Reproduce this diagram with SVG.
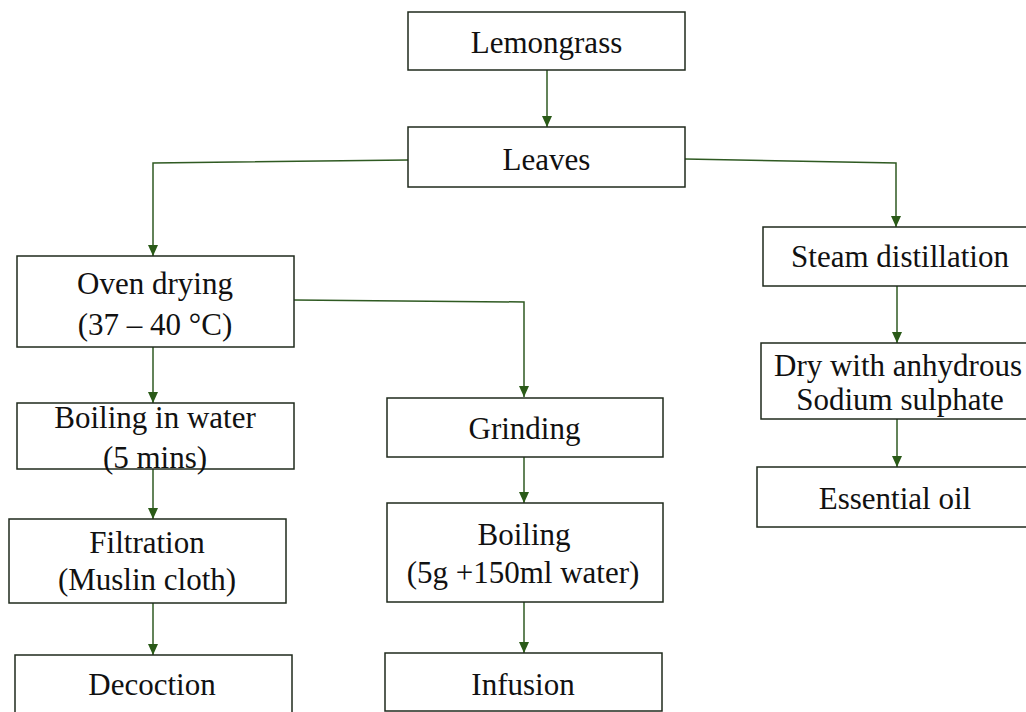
<svg xmlns="http://www.w3.org/2000/svg" width="1026" height="712" viewBox="0 0 1026 712">
<style>
.box{fill:#fff;stroke:#1f2a1c;stroke-width:1.5}
.t{font-family:'Liberation Serif',serif;font-size:31px;fill:#111;text-anchor:middle}
.c{fill:none;stroke:#2f5a22;stroke-width:1.5}
</style>
<defs>
<marker id="ah" markerUnits="userSpaceOnUse" markerWidth="11" markerHeight="10" viewBox="0 0 11 10" refX="11" refY="5" orient="auto">
<path d="M0,0 L11,5 L0,10 Z" fill="#2a5a18"/>
</marker>
</defs>
<rect width="1026" height="712" fill="#fff"/>
<g id="connectors">
<path class="c" d="M547,70 V127" marker-end="url(#ah)"/>
<path class="c" d="M408,160 L153,163 V256" marker-end="url(#ah)"/>
<path class="c" d="M685,159 L896,163 V227" marker-end="url(#ah)"/>
<path class="c" d="M294,300 L524,302 V397" marker-end="url(#ah)"/>
<path class="c" d="M153,347 V403" marker-end="url(#ah)"/>
<path class="c" d="M153,469 V519" marker-end="url(#ah)"/>
<path class="c" d="M153,603 V655" marker-end="url(#ah)"/>
<path class="c" d="M524,457 V503" marker-end="url(#ah)"/>
<path class="c" d="M524,602 V653" marker-end="url(#ah)"/>
<path class="c" d="M897,286 V343" marker-end="url(#ah)"/>
<path class="c" d="M897,419 V467" marker-end="url(#ah)"/>
</g>
<g id="lemongrass"><rect class="box" x="408" y="12" width="277" height="58"/><text class="t" x="546.5" y="53">Lemongrass</text></g>
<g id="leaves"><rect class="box" x="408" y="127" width="277" height="60"/><text class="t" x="546.5" y="170">Leaves</text></g>
<g id="oven"><rect class="box" x="17" y="256" width="277" height="91"/><text class="t" x="155" y="294">Oven drying</text><text class="t" x="155" y="335">(37 – 40 °C)</text></g>
<g id="steam"><rect class="box" x="763" y="227" width="264" height="59"/><text class="t" x="900" y="267">Steam distillation</text></g>
<g id="dry"><rect class="box" x="761" y="343" width="266" height="76"/><text class="t" x="898" y="376">Dry with anhydrous</text><text class="t" x="900" y="410">Sodium sulphate</text></g>
<g id="oil"><rect class="box" x="757" y="467" width="270" height="60"/><text class="t" x="895" y="509">Essential oil</text></g>
<g id="boilwater"><rect class="box" x="17" y="403" width="277" height="66"/><text class="t" x="155" y="428">Boiling in water</text><text class="t" x="155" y="468">(5 mins)</text></g>
<g id="filtration"><rect class="box" x="9" y="519" width="277" height="84"/><text class="t" x="147" y="553">Filtration</text><text class="t" x="147" y="590">(Muslin cloth)</text></g>
<g id="decoction"><rect class="box" x="15" y="655" width="277" height="62"/><text class="t" x="152" y="695">Decoction</text></g>
<g id="grinding"><rect class="box" x="387" y="398" width="276" height="59"/><text class="t" x="524.5" y="439">Grinding</text></g>
<g id="boiling"><rect class="box" x="387" y="503" width="276" height="99"/><text class="t" x="524" y="545">Boiling</text><text class="t" x="523" y="583">(5g +150ml water)</text></g>
<g id="infusion"><rect class="box" x="385" y="653" width="277" height="58"/><text class="t" x="523" y="695">Infusion</text></g>
</svg>
